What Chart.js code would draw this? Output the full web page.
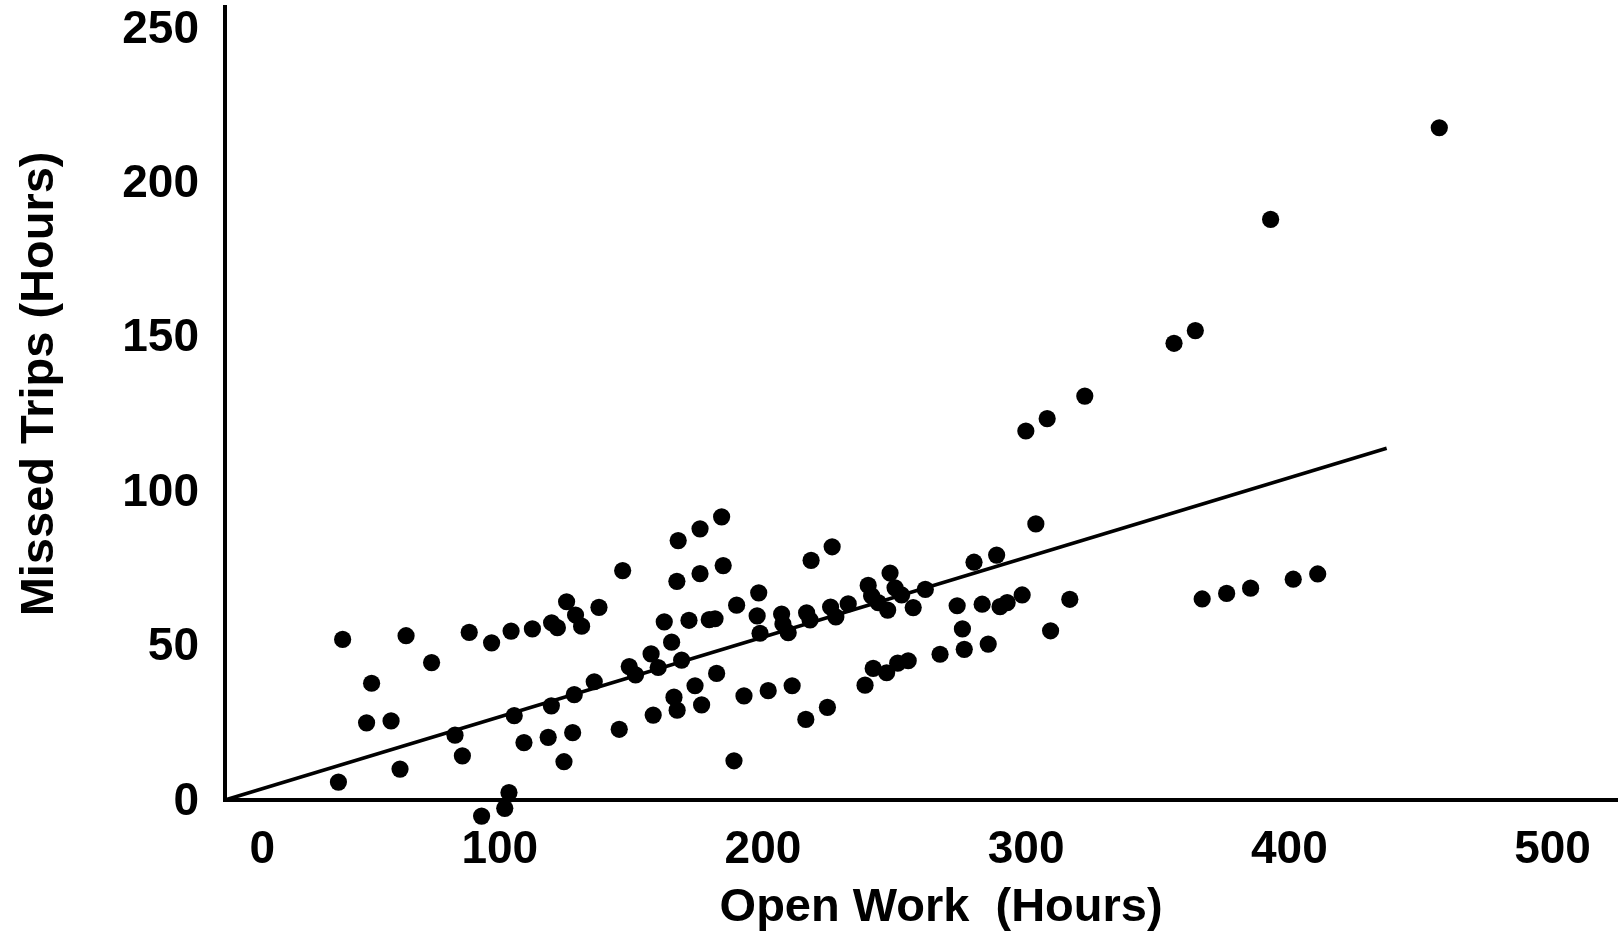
<!DOCTYPE html>
<html lang="en">
<head>
    <meta charset="UTF-8">
    <title>Open Work vs Missed Trips</title>
    <style>
        html, body { margin: 0; padding: 0; background: #fff; overflow: hidden; }
        #wrap { width: 1618px; height: 932px; position: relative; }
    </style>
    <script src="https://cdn.jsdelivr.net/npm/chart.js"></script>
</head>
<body>
    <div id="wrap"><canvas id="scatterChart"></canvas></div>

    <script>
        // tick labels
        const xTicks = [0, 100, 200, 300, 400, 500];
        const yTicks = [0, 50, 100, 150, 200, 250];

        // open work (hours) for each point
        const openWork = [
            44.7, 68.8, 55.7, 78.5, 53.8, 63.1, 43.1, 66.5, 92.8, 101.3,
            108.7, 116.8, 124.1, 126.3, 129.8, 133.2, 135.5, 142.1, 87.4, 90.2,
            109.9, 113.6, 122.8, 124.0, 132.1, 128.8, 132.7, 140.3, 149.8, 153.6,
            107.9, 106.3, 97.5,
            151.1, 156.0, 161.9, 164.6, 166.9, 169.7, 173.5, 172.2, 180.5, 188.7,
            171.7, 180.5, 189.3, 176.3, 184.0, 186.2, 194.4, 202.8, 202.2, 203.3,
            211.5, 212.0, 214.0, 221.0, 222.3, 222.7, 230.7, 230.1, 232.1, 236.8,
            244.4, 245.7, 248.2, 251.8, 252.7, 254.6, 257.1, 261.5, 266.1, 278.2,
            284.6, 287.7, 293.2, 294.5, 297.2, 302.9, 280.2, 280.9, 290.0, 271.7,
            259.6, 255.6, 251.4, 246.3, 243.2, 215.5, 206.4, 197.2, 186.8, 178.6,
            170.6, 171.8, 181.1, 162.7, 228.9, 220.7, 193.4,
            308.1, 321.0, 313.7, 371.3, 380.6, 389.7, 405.9, 415.2, 461.4, 397.3,
            360.6, 368.7, 326.7, 312.4, 304.3
        ];
        // missed trips (hours) for each point
        const missedTrips = [
            52.0, 53.2, 37.8, 44.5, 25.0, 25.6, 5.8, 10.0, 54.3, 50.9,
            54.7, 55.4, 57.4, 55.8, 64.2, 59.9, 56.3, 62.4, 21.0, 14.3,
            27.3, 18.6, 20.3, 30.5, 21.8, 12.4, 34.1, 38.3, 22.9, 43.2,
            2.4, -2.7, -5.2,
            74.3, 40.5, 47.3, 42.9, 57.7, 51.1, 45.3, 84.0, 87.8, 91.7,
            70.8, 73.3, 75.9, 58.2, 58.4, 58.7, 63.1, 67.1, 59.6, 54.0,
            60.2, 57.0, 54.2, 60.6, 58.3, 77.6, 82.0, 62.5, 59.3, 63.5,
            69.5, 66.1, 63.9, 61.5, 73.5, 68.7, 66.4, 62.3, 68.2, 62.9,
            77.0, 63.4, 79.3, 62.6, 63.9, 66.4, 55.4, 48.8, 50.5, 47.2,
            45.1, 44.3, 41.2, 42.6, 37.2, 37.0, 35.4, 33.7, 41.0, 37.0,
            33.3, 29.1, 30.8, 27.5, 30.0, 26.1, 12.7,
            89.4, 65.0, 54.8, 65.1, 66.9, 68.6, 71.5, 73.2, 217.7, 188.0,
            147.9, 152.0, 130.8, 123.5, 119.5
        ];
        // trend line end points
        const trendX = [0, 441.4];
        const trendY = [0, 113.9];

        const tickFont = { family: "'Liberation Sans', Arial, sans-serif", size: 46, weight: 'bold' };
        const titleFont = { family: "'Liberation Sans', Arial, sans-serif", size: 47, weight: 'bold' };

        const points = openWork.map((x, i) => ({ x: x, y: missedTrips[i] }));
        const trend = trendX.map((x, i) => ({ x: x, y: trendY[i] }));

        // a few points sit just under the x axis; let them be drawn there
        const looseArea = {
            id: 'looseArea',
            beforeDatasetsDraw(chart) { chart.chartArea.bottom += 40; },
            afterDatasetsDraw(chart) { chart.chartArea.bottom -= 40; }
        };

        const ctx = document.getElementById('scatterChart').getContext('2d');
        new Chart(ctx, {
            type: 'scatter',
            data: {
                datasets: [{
                    label: 'Missed Trips',
                    data: points,
                    pointRadius: 8.6,
                    pointBorderWidth: 0,
                    pointBackgroundColor: '#000',
                    clip: false
                }, {
                    type: 'line',
                    label: 'Trend',
                    data: trend,
                    borderColor: '#000',
                    borderWidth: 3.5,
                    pointRadius: 0,
                    fill: false,
                    clip: false
                }]
            },
            plugins: [looseArea],
            options: {
                responsive: true,
                maintainAspectRatio: false,
                animation: false,
                events: [],
                layout: { autoPadding: false, padding: { top: 7, left: 0, right: 0, bottom: 0 } },
                plugins: {
                    legend: { display: false },
                    tooltip: { enabled: false }
                },
                scales: {
                    x: {
                        type: 'linear',
                        min: 0,
                        max: 529.3,
                        afterBuildTicks: s => { s.ticks = xTicks.map(v => ({ value: v })); },
                        afterFit: s => { s.height = 132; s.paddingLeft = 0; s.paddingRight = 0; },
                        grid: { display: false, drawTicks: false },
                        border: { display: true, color: '#000', width: 4 },
                        ticks: {
                            autoSkip: false,
                            maxRotation: 0,
                            align: 'end',
                            labelOffset: 50,
                            padding: 23,
                            color: '#000',
                            font: tickFont
                        },
                        title: {
                            display: true,
                            text: '   Open Work  (Hours)',
                            color: '#000',
                            font: titleFont,
                            padding: { top: 0, bottom: -4 }
                        }
                    },
                    y: {
                        type: 'linear',
                        min: 0,
                        max: 256.8,
                        afterBuildTicks: s => { s.ticks = yTicks.map(v => ({ value: v })); },
                        afterFit: s => { s.width = 225; s.paddingTop = 0; s.paddingBottom = 0; },
                        grid: { display: false, drawTicks: false },
                        border: { display: true, color: '#000', width: 4 },
                        ticks: {
                            padding: 26,
                            labelOffset: 2,
                            color: '#000',
                            font: tickFont
                        },
                        title: {
                            display: true,
                            text: '   Missed Trips (Hours)',
                            color: '#000',
                            font: titleFont,
                            padding: { top: 12, bottom: 0 }
                        }
                    }
                }
            }
        });
    </script>
</body>
</html>
